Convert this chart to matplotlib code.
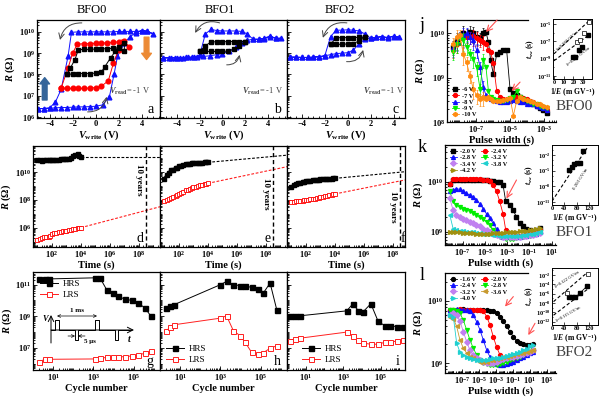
import numpy as np
import matplotlib
matplotlib.use("Agg")
import matplotlib.pyplot as plt
from matplotlib.ticker import (FixedLocator, LogLocator, NullFormatter,
                               MultipleLocator, LogFormatterSciNotation)

plt.rcParams.update({
    "font.family": ["Liberation Serif", "DejaVu Serif"],
    "font.weight": "bold",
    "axes.labelweight": "bold",
    "mathtext.fontset": "custom",
    "mathtext.rm": "Liberation Serif:bold",
    "mathtext.it": "Liberation Serif:italic:bold",
    "mathtext.bf": "Liberation Serif:bold",
    "axes.linewidth": 0.9,
})

# ---------------- a-c : R vs V_write (loops in sweep order) ----------------
a_black_V = [-2.5, -2.0, -1.5, -1.0, -0.5, 0.0, 0.5, 0.8, 1.3, 1.7, 2.0, 2.5,
             2.5, 2.0, 1.5, 1.0, 0.5, 0.0, -0.5, -1.0, -1.5, -1.8, -2.2, -2.5]
a_black_R = [1.0e8, 1.05e8, 1.1e8, 1.1e8, 1.1e8, 1.15e8, 1.3e8, 2.3e8, 6e8, 1.2e9, 2e9, 2.9e9,
             1.2e9, 1.8e9, 1.7e9, 1.6e9, 1.6e9, 1.55e9, 1.5e9, 1.5e9, 1.45e9, 5e8, 2e8, 1.0e8]
a_red_V = [-3.0, -2.5, -2.0, -1.5, -1.0, -0.5, 0.0, 0.5, 1.1, 1.55, 2.0, 2.3, 2.9,
           2.5, 2.0, 1.5, 1.0, 0.5, 0.0, -0.5, -1.0, -1.6, -2.0, -2.4, -3.0]
a_red_R = [2.3e7, 2.2e7, 2.2e7, 2.2e7, 2.2e7, 2.3e7, 2.4e7, 2.8e7, 5e7, 3.4e8, 1.4e9, 3.5e9, 2e9,
           3.8e9, 3.4e9, 3.2e9, 3.0e9, 3.0e9, 2.9e9, 2.8e9, 2.8e9, 2.6e9, 1e9, 2e8, 2.3e7]
a_blue_V = [-5.0, -4.5, -4.0, -3.5, -3.0, -2.5, -2.0, -1.5, -1.0, -0.5,
            0.0, 0.6, 1.2, 1.6, 1.9, 2.5, 3.0, 3.5, 4.0, 4.5, 5.0,
            4.5, 4.0, 3.5, 3.0, 2.5, 2.0, 1.5, 1.0, 0.5, 0.0,
            -0.5, -1.0, -1.5, -2.1, -2.4, -3.0, -3.5, -4.0, -4.5, -5.0]
a_blue_R = [2.5e6, 2.5e6, 2.6e6, 2.7e6, 2.8e6, 2.8e6, 2.9e6, 3.0e6, 3.0e6, 3.1e6,
            3.2e6, 3.7e6, 9e6, 1e8, 7e8, 3e9, 6e9, 9e9, 1.15e10, 1.1e10, 8e9,
            1.05e10, 1.1e10, 1.05e10, 1.05e10, 1.05e10, 1.05e10, 1.0e10, 1.0e10, 1.0e10, 1.0e10,
            1.0e10, 1.0e10, 1.0e10, 9.5e9, 7e8, 2e7, 5e6, 2.7e6, 2.5e6, 2.5e6]

b_black_V = [-2.0, -1.5, -1.0, -0.5, 0.0, 0.5, 1.0, 1.5, 2.0,
             2.0, 1.5, 1.0, 0.5, 0.0, -0.5, -1.0, -1.5, -2.0]
b_black_R = [1.2e9, 1.2e9, 1.2e9, 1.2e9, 1.2e9, 1.25e9, 1.5e9, 2.2e9, 3.3e9,
             3.5e9, 3.5e9, 3.5e9, 3.5e9, 3.4e9, 3.4e9, 3.4e9, 2.2e9, 1.2e9]
b_blue_V = [-5.2, -4.7, -4.2, -3.7, -3.2, -2.7, -2.2, -1.7, -1.1, -0.5,
            0.0, 0.6, 1.2, 1.7, 2.2, 2.7, 3.2, 3.7, 4.2, 4.7, 5.2,
            4.7, 4.2, 3.7, 3.2, 2.7, 2.2, 1.7, 1.2, 0.6, 0.0,
            -0.5, -1.0, -1.5, -2.0, -2.5, -3.0, -3.5, -4.0, -4.5, -5.2]
b_blue_R = [6e8, 6e8, 6e8, 6.2e8, 6.3e8, 6.5e8, 6.5e8, 7e8, 7.5e8, 8.5e8,
            9.5e8, 1.2e9, 2e9, 3e9, 4e9, 4.5e9, 4.5e9, 4.7e9, 6e9, 5e9, 5e9,
            5e9, 6.5e9, 5e9, 4.5e9, 4.5e9, 8e9, 1.05e10, 1.1e10, 1.1e10, 1.1e10,
            1.15e10, 1.3e10, 8e9, 8e8, 6.5e8, 6.3e8, 6.2e8, 6e8, 6e8, 6e8]

c_black_V = [-1.5, -1.0, -0.5, 0.0, 0.5, 1.0, 1.5, 1.5, 1.0, 0.5, 0.0, -0.5, -1.0, -1.5]
c_black_R = [2.6e9, 2.6e9, 2.6e9, 2.7e9, 2.8e9, 3.8e9, 5.5e9, 5.5e9, 5.5e9, 5.4e9, 5.4e9, 5.3e9, 5.3e9, 2.6e9]
c_blue_V = [-5.0, -4.5, -4.0, -3.5, -3.0, -2.5, -2.0, -1.5, -1.0, -0.5,
            0.0, 0.5, 1.0, 1.5, 2.0, 2.5, 3.0, 3.5, 4.0, 4.5,
            4.0, 3.5, 3.0, 2.5, 2.0, 1.5, 1.0, 0.5, 0.0, -0.5,
            -1.0, -1.5, -2.0, -2.5, -3.0, -3.5, -4.0, -4.5, -5.0]
c_blue_R = [6.5e8, 6.5e8, 6.3e8, 6.3e8, 6.5e8, 6.8e8, 7.5e8, 8.5e8, 9.5e8, 1.0e9,
            1.05e9, 1.4e9, 2.8e9, 4.5e9, 5e9, 5.5e9, 6e9, 5.5e9, 6e9, 5.5e9,
            6.5e9, 5e9, 6e9, 5.5e9, 5e9, 8e9, 1.1e10, 1.2e10, 1.25e10, 1.2e10,
            1.2e10, 6e9, 7.5e8, 6.8e8, 6.5e8, 6.3e8, 6.3e8, 6.5e8, 6.5e8]

# ---------------- d-f : retention ----------------
ret_t = [10, 15, 20, 30, 40, 60, 80, 100, 150, 200, 300, 400, 600, 800, 1000,
         1500, 2000, 3000, 4000, 6000, 8000, 10000]
d_hrs = [7e10, 7e10, 6.5e10, 6.8e10, 7e10, 7e10, 7.2e10, 7.5e10, 7.2e10, 7e10, 7.5e10,
         8e10, 8e10, 8.5e10, 8.5e10, 9e10, 1e11, 1.3e11, 1.6e11, 1.8e11, 1.5e11, 1.2e11]
d_lrs = [1.5e5, 1.7e5, 2e5, 2.2e5, 2.3e5, 2.4e5, 2.5e5, 4e5, 4.3e5, 4.6e5, 5e5,
         5.3e5, 5.8e5, 6.2e5, 6.5e5, 7e5, 7.5e5, 8e5, 8.5e5, 9.2e5, 1e6, 1.05e6]
e_hrs = [3e9, 6e9, 9e9, 1.3e10, 1.5e10, 1.8e10, 2.1e10, 2.5e10, 2.9e10, 3.1e10, 3.5e10,
         3.7e10, 3.9e10, 4.1e10, 4.2e10, 4.4e10, 4.5e10, 4.6e10, 4.7e10, 4.8e10, 4.85e10, 4.9e10]
e_lrs = [9e7, 1e8, 1.1e8, 1.4e8, 1.6e8, 2e8, 2.4e8, 2.8e8, 3.4e8, 4e8, 5e8,
         5.6e8, 6.5e8, 7.2e8, 8e8, 9e8, 1e9, 1.1e9, 1.2e9, 1.35e9, 1.45e9, 1.55e9]
f_hrs = [9e8, 1.1e9, 1.3e9, 1.55e9, 1.7e9, 1.9e9, 2.05e9, 2.2e9, 2.35e9, 2.45e9, 2.6e9,
         2.7e9, 2.8e9, 2.9e9, 3e9, 3.1e9, 3.2e9, 3.3e9, 3.35e9, 3.4e9, 3.45e9, 3.5e9]
f_lrs = [7.5e7, 7.8e7, 8e7, 8.5e7, 8.8e7, 9.2e7, 9.6e7, 1e8, 1.07e8, 1.12e8, 1.2e8,
         1.27e8, 1.37e8, 1.45e8, 1.55e8, 1.7e8, 1.8e8, 2e8, 2.15e8, 2.35e8, 2.55e8, 2.7e8]
ext_t = [1e4, 2.9e9]
f_ext_t = [1e4, 6.9e8]
d_hrs_ext = [1.1e11, 1.1e11]
d_lrs_ext = [1.05e6, 3.3e7]
e_hrs_ext = [4.9e10, 1.6e11]
e_lrs_ext = [1.55e9, 2.4e10]
f_hrs_ext = [3.5e9, 1.05e10]
f_lrs_ext = [2.7e8, 2.7e9]
ten_years = 3.15e8

# ---------------- g-i : endurance ----------------
g_N = [2, 4, 6, 1200, 2100, 4500, 9600, 1.7e4, 3.7e4, 7.9e4, 1.7e5, 3.6e5, 6.9e5]
g_hrs = [2.4e11, 2.3e11, 2.3e11, 2.7e11, 2.7e11, 4.8e10, 3e10, 1.8e10, 1.2e10, 1e10, 6.8e9, 3.3e9, 1.07e9]
g_lrs = [1.35e6, 1.9e6, 1.9e6, 2e6, 2.2e6, 2.5e6, 2.6e6, 2.7e6, 2.8e6, 3.1e6, 3.6e6, 4.6e6, 6.8e6]
h_N = [2, 3, 5, 1000, 2000, 4400, 9300, 1.7e4, 3.5e4, 7.6e4, 1.35e5, 2.9e5, 6.2e5]
h_hrs = [3.3e9, 4.2e9, 5.4e9, 1e11, 1.6e11, 1e11, 8.7e10, 7.9e10, 6.8e10, 5.6e10, 3e10, 1.26e11, 2.6e9]
h_lrs = [1.1e8, 1.95e8, 2.9e8, 7.6e8, 1.07e9, 1.2e8, 6e7, 2.2e7, 5.2e6, 4e6, 5e6, 9.5e6, 1.35e7]
i_N = [1.5, 2.7, 4.9, 1550, 3200, 6500, 1.2e4, 3e4, 7.4e4, 1.7e5, 3.2e5, 7.8e5, 1.6e6]
i_hrs = [9.8e8, 1.07e9, 1.07e9, 2.2e9, 5.9e9, 2.3e9, 2.0e9, 6.2e9, 4.7e8, 2.5e8, 2.5e8, 2.2e8, 2.0e8]
i_lrs = [2.75e7, 3.7e7, 4.1e7, 1e8, 6e7, 3.2e7, 2e7, 1.7e7, 1.7e7, 2.3e7, 2.3e7, 2.75e7, 3.2e7]

# ---------------- j : BFO0 pulse width ----------------
j_logw = [-8.33, -8.14, -7.94, -7.75, -7.55, -7.35, -7.16, -6.96, -6.76, -6.57,
          -6.41, -6.27, -6.14, -5.98, -5.78, -5.59, -5.39, -5.20, -5.00, -4.80,
          -4.61, -4.41, -4.22, -4.02, -3.82, -3.63, -3.43, -3.24, -3.04, -2.84]
j_labels = ["-6 V", "-7 V", "-8 V", "-9 V", "-10 V"]
j_R = [
    [5.0e9, 7.1e9, 8.3e9, 1.0e10, 9.1e9, 1.1e10, 1.0e10, 8.3e9, 7.8e9, 1.0e10,
     1.05e10, 6.5e9, 2.5e9, 1.2e9, 3.5e9, 3.8e9, 4.2e9, 4.3e9, 5.6e8, 4.4e8,
     4.0e8, 3.6e8, 3.3e8, 3.0e8, 2.8e8, 2.6e8, 2.3e8, 2.1e8, 1.9e8, 1.6e8],
    [4.2e9, 5.9e9, 7.8e9, 8.3e9, 8.1e9, 8.3e9, 8.7e9, 7.8e9, 7.1e9, 6.5e9,
     5.9e9, 4.2e9, 3.8e9, 2.1e9, 5.1e8, 3.6e8, 3.3e8, 3.3e8, 3.2e8, 3.3e8,
     3.6e8, 3.6e8, 3.5e8, 3.3e8, 3.0e8, 2.8e8, 2.6e8, 2.3e8, 2.1e8, 1.9e8],
    [4.6e9, 6.5e9, 8.3e9, 9.1e9, 1.0e10, 8.3e9, 7.1e9, 4.2e9, 1.7e9, 6.2e8,
     4.0e8, 3.6e8, 3.3e8, 3.2e8, 3.0e8, 2.8e8, 2.8e8, 2.9e8, 3.0e8, 3.2e8,
     3.0e8, 2.9e8, 2.8e8, 2.6e8, 2.6e8, 2.5e8, 2.3e8, 2.2e8, 2.1e8, 1.9e8],
    [3.8e9, 5.9e9, 7.8e9, 7.1e9, 5.0e9, 3.5e9, 2.7e9, 1.7e9, 5.6e8, 2.5e9,
     1.7e9, 5.1e8, 3.6e8, 3.3e8, 3.2e8, 3.0e8, 3.0e8, 3.2e8, 3.5e8, 3.6e8,
     5.0e8, 3.6e8, 3.3e8, 3.0e8, 2.8e8, 2.6e8, 2.5e8, 2.3e8, 2.2e8, 2.1e8],
    [5.9e9, 8.3e9, 9.1e9, 3.5e9, 2.2e9, 1.1e9, 5.6e8, 4.0e8, 3.3e8, 3.6e8,
     3.3e8, 3.6e8, 3.3e8, 3.0e8, 3.0e8, 3.0e8, 3.2e8, 3.3e8, 3.5e8, 1.4e8,
     3.0e8, 3.6e8, 3.3e8, 3.2e8, 3.0e8, 2.8e8, 2.6e8, 2.5e8, 2.3e8, 2.2e8],
]
j_err_frac = [0.35, 0.4, 0.3, 0.45, 0.35, 0.3, 0.4, 0.35, 0.3, 0.35]

# ---------------- k : BFO1 pulse width ----------------
k_logw = [-8.17, -7.87, -7.57, -7.27, -6.97, -6.67, -6.37, -6.07, -5.77, -5.47,
          -5.17, -4.86, -4.57, -4.27, -3.96, -3.67, -3.37, -3.13, -2.77, -2.47,
          -2.16, -1.86, -1.57, -1.26, -0.96, -0.67, -0.36, -0.06]
k_labels = ["-2.0 V", "-2.4 V", "-2.8 V", "-3.2 V", "-3.4 V", "-3.8 V", "-4.2 V"]
k_R = [
    [9.3e9, 1.1e10, 1.12e10, 1.12e10, 1.12e10, 1.12e10, 1.12e10, 1.12e10, 1.12e10, 1.1e10,
     1.1e10, 1.1e10, 1.07e10, 1.07e10, 1.02e10, 9.8e9, 8.7e9, 4.1e9, 3.5e9, 2.75e9,
     2.0e9, 1.5e9, 1.3e9, 1.17e9, 1.1e9, 1.02e9, 1.1e9, 1.23e9],
    [9.3e9, 1.17e10, 1.17e10, 1.17e10, 1.17e10, 1.17e10, 1.17e10, 1.17e10, 1.17e10, 1.17e10,
     1.12e10, 1.1e10, 1.07e10, 8.7e9, 6.5e9, 4.1e9, 2.3e9, 1.1e9, 8.1e8, 8.1e8,
     8.3e8, 8.3e8, 8.5e8, 8.7e8, 9.1e8, 9.3e8, 1.02e9, 1.1e9],
    [6.5e9, 6.9e9, 7.4e9, 7.1e9, 6.5e9, 5.9e9, 5.5e9, 5.1e9, 4.4e9, 3.7e9,
     2.95e9, 2.3e9, 1.9e9, 1.5e9, 1.17e9, 8.7e8, 8.1e8, 7.8e8, 7.8e8, 7.8e8,
     8.1e8, 8.1e8, 8.3e8, 8.5e8, 8.7e8, 9.1e8, 9.3e8, 1.02e9],
    [6.5e9, 4.1e9, 3.5e9, 3.1e9, 2.95e9, 2.75e9, 2.6e9, 2.35e9, 2.15e9, 1.95e9,
     1.8e9, 1.6e9, 1.4e9, 1.1e9, 9.3e8, 8.1e8, 7.8e8, 7.4e8, 7.4e8, 7.4e8,
     7.6e8, 7.8e8, 8.1e8, 8.3e8, 8.5e8, 8.7e8, 9.1e8, 9.8e8],
    [4.7e9, 2.75e9, 2.2e9, 1.95e9, 1.85e9, 1.75e9, 1.6e9, 1.5e9, 1.4e9, 1.3e9,
     1.17e9, 1.1e9, 1.02e9, 9.3e8, 8.7e8, 8.3e8, 8.1e8, 7.9e8, 7.9e8, 7.9e8,
     8.0e8, 8.1e8, 8.3e8, 8.5e8, 8.7e8, 8.9e8, 9.1e8, 9.5e8],
    [2.2e9, 1.17e9, 1.1e9, 1.05e9, 1.03e9, 1.02e9, 1.0e9, 9.8e8, 9.6e8, 9.5e8,
     9.3e8, 9.1e8, 9.0e8, 8.8e8, 8.7e8, 8.5e8, 8.4e8, 8.3e8, 8.3e8, 8.3e8,
     8.4e8, 8.5e8, 8.6e8, 8.8e8, 9.0e8, 9.3e8, 9.6e8, 1.0e9],
    [1.02e9, 1.0e9, 1.0e9, 9.8e8, 9.7e8, 9.6e8, 9.5e8, 9.4e8, 9.3e8, 9.3e8,
     9.2e8, 9.2e8, 9.3e8, 9.4e8, 9.5e8, 9.6e8, 9.7e8, 9.8e8, 9.9e8, 1.0e9,
     1.02e9, 1.03e9, 1.05e9, 1.07e9, 1.1e9, 1.12e9, 1.15e9, 1.2e9],
]

# ---------------- l : BFO2 pulse width ----------------
l_logw = [-8.41, -8.02, -7.63, -7.24, -6.84, -6.45, -6.06, -5.67, -5.27, -4.88,
          -4.49, -4.09, -3.71, -3.32, -2.92, -2.53, -2.14, -1.74, -1.35, -0.96,
          -0.56, -0.18, 0.21, 0.61, 1.00, 1.39]
l_labels = ["-1.6 V", "-2.0 V", "-2.4 V", "-2.8 V", "-3.2 V", "-3.6 V", "-4.0 V"]
l_R = [
    [7.2e9, 7.2e9, 7.1e9, 7.2e9, 7.3e9, 7.2e9, 7.2e9, 7.1e9, 7.2e9, 7.2e9,
     7.1e9, 7.1e9, 7.0e9, 6.8e9, 6.3e9, 5.6e9, 4.7e9, 3.9e9, 3.2e9, 2.65e9,
     2.3e9, 2.1e9, 2.0e9, 1.95e9, 1.95e9, 2.05e9],
    [7.2e9, 7.2e9, 7.2e9, 7.3e9, 7.2e9, 7.2e9, 7.2e9, 7.1e9, 7.2e9, 7.1e9,
     6.8e9, 5.6e9, 4.1e9, 2.65e9, 1.8e9, 1.35e9, 1.2e9, 1.12e9, 1.1e9, 1.12e9,
     1.15e9, 1.26e9, 1.35e9, 1.45e9, 1.5e9, 1.6e9],
    [7.2e9, 7.2e9, 7.3e9, 7.2e9, 7.2e9, 7.1e9, 6.8e9, 5.9e9, 4.6e9, 3.4e9,
     2.35e9, 1.6e9, 1.26e9, 1.05e9, 9.6e8, 9.3e8, 9.3e8, 9.6e8, 1.0e9, 1.05e9,
     1.12e9, 1.2e9, 1.26e9, 1.35e9, 1.45e9, 1.5e9],
    [7.2e9, 7.2e9, 7.0e9, 6.3e9, 4.9e9, 3.4e9, 2.35e9, 1.73e9, 1.35e9, 1.12e9,
     1.0e9, 9.6e8, 9.3e8, 9.3e8, 9.3e8, 9.6e8, 1.0e9, 1.05e9, 1.12e9, 1.15e9,
     1.2e9, 1.26e9, 1.35e9, 1.45e9, 1.5e9, 1.6e9],
    [5.9e9, 6.3e9, 5.9e9, 4.7e9, 3.2e9, 2.2e9, 1.6e9, 1.35e9, 1.2e9, 1.12e9,
     1.05e9, 1.0e9, 1.0e9, 1.0e9, 1.05e9, 1.12e9, 1.15e9, 1.2e9, 1.24e9, 1.26e9,
     1.3e9, 1.35e9, 1.4e9, 1.45e9, 1.5e9, 1.6e9],
    [5.6e9, 5.2e9, 3.9e9, 2.35e9, 1.73e9, 1.45e9, 1.26e9, 1.2e9, 1.12e9, 1.05e9,
     1.05e9, 1.05e9, 1.1e9, 1.12e9, 1.15e9, 1.2e9, 1.24e9, 1.26e9, 1.3e9, 1.35e9,
     1.4e9, 1.45e9, 1.47e9, 1.5e9, 1.55e9, 1.65e9],
    [5.9e9, 5.6e9, 2.1e9, 1.5e9, 1.35e9, 1.26e9, 1.2e9, 1.15e9, 1.12e9, 1.12e9,
     1.12e9, 1.12e9, 1.15e9, 1.2e9, 1.2e9, 1.2e9, 1.26e9, 1.3e9, 1.35e9, 1.4e9,
     1.45e9, 1.5e9, 1.6e9, 1.7e9, 1.85e9, 1.95e9],
]

# ---------------- insets : t_sw vs 1/E ----------------
j_invE_open = [24, 27, 31, 36]
j_tsw_open = [8e-8, 1.6e-7, 1e-6, 1.6e-5]
j_invE_fill = [20, 22, 26, 29, 35]
j_tsw_fill = [1.6e-9, 1.6e-9, 1e-8, 2.5e-8, 6.3e-7]
j_fit1_x, j_fit1_t = [0, 37], [3.7e-9, 3.2e-5]
j_fit2_x, j_fit2_t = [0, 34], [5.8e-10, 4e-7]
k_invE = [54, 65, 72, 81, 90, 101]
k_tsw = [1.35e-5, 4.4e-5, 1.6e-4, 3.2e-4, 2.5e-4, 6.3e-2]
k_fit_x, k_fit_t = [0, 114], [1.3e-11, 0.2]
l_invE = [54, 65, 76, 92, 114]
l_tsw = [2.2e-7, 1.6e-7, 1.6e-7, 1.6e-6, 4e-5]
l_invE_open = [49, 119]
l_tsw_open = [1.3e-6, 1.6e-2]
l_fit1_x, l_fit1_t = [5, 114], [2e-8, 3e-2]
l_fit2_x, l_fit2_t = [5, 119], [2.5e-11, 1.3e-5]

# ====================================================================
W, H = 600, 397
fig = plt.figure(figsize=(6.0, 3.97), dpi=100)


def add_box(x0, y0, x1, y1, z=0):
    ax = fig.add_axes([x0 / W, 1 - y1 / H, (x1 - x0) / W, (y1 - y0) / H])
    ax.set_zorder(z)
    return ax


def style(ax, fs=6):
    ax.tick_params(which="both", direction="in", labelsize=fs, pad=1.5,
                   width=0.6, top=False, right=False)
    ax.tick_params(which="major", length=2.8)
    ax.tick_params(which="minor", length=1.5)
    for sp in ax.spines.values():
        sp.set_linewidth(0.9)


def log_axis(axis, majors, subs=np.arange(1, 10)):
    axis.set_major_locator(FixedLocator(majors))
    axis.set_major_formatter(LogFormatterSciNotation())
    axis.set_minor_locator(LogLocator(base=10, subs=subs, numticks=200))
    axis.set_minor_formatter(NullFormatter())


def letter(ax, s, x=0.95, y=0.02):
    ax.text(x, y, s, transform=ax.transAxes, ha="right", va="bottom",
            fontsize=10, weight="normal")


RLABEL = r"$\mathit{R}$ (Ω)"

# ---------------- a, b, c ----------------
ax_a = add_box(37, 20, 160, 118)
ax_b = add_box(160, 20, 287, 118)
ax_c = add_box(287, 20, 405, 118)
for ax, xl in ((ax_a, (-5.1, 5.6)), (ax_b, (-5.5, 5.7)), (ax_c, (-5.3, 5.0))):
    ax.set_yscale("log")
    ax.set_ylim(9e5, 3.6e10)
    ax.set_xlim(*xl)
    style(ax)
    log_axis(ax.yaxis, [1e6, 1e7, 1e8, 1e9, 1e10], subs=np.arange(2, 10))
    ax.xaxis.set_major_locator(FixedLocator([-4, -2, 0, 2, 4]))
    ax.xaxis.set_minor_locator(MultipleLocator(0.5))
    ax.set_xlabel(r"$\mathit{V}_{\mathrm{write}}$ (V)", fontsize=7.5, labelpad=0.5)
ax_b.tick_params(labelleft=False)
ax_c.tick_params(labelleft=False)
ax_a.set_ylabel(RLABEL, fontsize=7.5, labelpad=1)

mk = dict(lw=0.7, ms=3.4)
ax_a.plot(a_blue_V, a_blue_R, "-^", color="#1010ff", **mk)
ax_a.plot(a_red_V, a_red_R, "-o", color="#ff0000", **mk)
ax_a.plot(a_black_V, a_black_R, "-s", color="black", lw=0.7, ms=3.0)
ax_b.plot(b_blue_V, b_blue_R, "-^", color="#1010ff", **mk)
ax_b.plot(b_black_V, b_black_R, "-s", color="black", lw=0.7, ms=3.0)
ax_c.plot(c_blue_V, c_blue_R, "-^", color="#1010ff", **mk)
ax_c.plot(c_black_V, c_black_R, "-s", color="black", lw=0.7, ms=3.0)

curve = dict(arrowstyle="->", color="#444444", lw=0.7, shrinkA=0, shrinkB=0)
ax_a.annotate("", xy=(-3.1, 10 ** 9.62), xytext=(-1.2, 10 ** 10.42),
              arrowprops=dict(connectionstyle="arc3,rad=0.4", **curve))
ax_a.annotate("", xy=(0.96, 10 ** 6.95), xytext=(-0.7, 10 ** 6.24),
              arrowprops=dict(connectionstyle="arc3,rad=0.4", **curve))
ax_b.annotate("", xy=(-2.4, 10 ** 9.95), xytext=(-0.24, 10 ** 10.42),
              arrowprops=dict(connectionstyle="arc3,rad=0.4", **curve))
ax_b.annotate("", xy=(1.52, 10 ** 8.92), xytext=(0.38, 10 ** 8.45),
              arrowprops=dict(connectionstyle="arc3,rad=0.4", **curve))
ax_c.annotate("", xy=(-2.17, 10 ** 9.72), xytext=(-0.07, 10 ** 10.42),
              arrowprops=dict(connectionstyle="arc3,rad=0.4", **curve))
ax_c.annotate("", xy=(1.35, 10 ** 9.15), xytext=(-0.1, 10 ** 8.6),
              arrowprops=dict(connectionstyle="arc3,rad=0.4", **curve))
ax_a.annotate("", xy=(-4.43, 10 ** 7.85), xytext=(-4.43, 10 ** 6.8),
              arrowprops=dict(width=3.4, headwidth=7, headlength=4.5,
                              color="#35659a", shrink=0))
ax_a.annotate("", xy=(4.43, 10 ** 8.7), xytext=(4.43, 10 ** 9.75),
              arrowprops=dict(width=3.4, headwidth=7, headlength=4.5,
                              color="#ec8a35", shrink=0))
for ax, xr in ((ax_a, 0.92), (ax_b, 0.97), (ax_c, 0.99)):
    ax.text(xr, 0.27, r"$\mathit{V}_{\mathrm{read}}$= -1 V", transform=ax.transAxes,
            ha="right", va="center", fontsize=6, weight="normal", color="#444444")
letter(ax_a, "a")
letter(ax_b, "b")
letter(ax_c, "c")

for x, s in ((92, "BFO0"), (220, "BFO1"), (340, "BFO2")):
    fig.text(x / W, 1 - 10 / H, s, ha="center", va="center", fontsize=9, weight="normal")

# ---------------- d, e, f ----------------
ax_d = add_box(33, 146, 160, 247)
ax_e = add_box(160, 146, 287, 247)
ax_f = add_box(287, 146, 405, 247)
ret_sets = (
    (ax_d, d_hrs, d_lrs, ext_t, d_hrs_ext, d_lrs_ext, 10 ** 9.46, 2.7e9, "d", 0.87),
    (ax_e, e_hrs, e_lrs, ext_t, e_hrs_ext, e_lrs_ext, 10 ** 9.46, 3e8, "e", 0.87),
    (ax_f, f_hrs, f_lrs, f_ext_t, f_hrs_ext, f_lrs_ext, 10 ** 8.84, 3e7, "f", 1.0),
)
for ax, hrs, lrs, et, he, le, xr, ty, lt, lx in ret_sets:
    ax.set_xscale("log")
    ax.set_yscale("log")
    ax.set_xlim(10 ** 0.7, xr)
    ax.set_ylim(10 ** 4.64, 10 ** 11.86)
    style(ax)
    log_axis(ax.xaxis, [1e2, 1e4, 1e6, 1e8])
    log_axis(ax.yaxis, [1e6, 1e8, 1e10])
    ax.set_xlabel("Time (s)", fontsize=7.5, labelpad=0.5)
    ax.plot(et, he, "--", color="black", lw=0.8, dashes=(2.5, 1.5))
    ax.plot(et, le, "--", color="#ff2020", lw=0.8, dashes=(2.5, 1.5))
    ax.plot(ret_t, hrs, "-s", color="black", lw=2.2, ms=3.2)
    ax.plot(ret_t, lrs, "-s", color="#ff0000", lw=1.8, ms=3.2, mfc="white", mew=0.6)
    ax.axvline(ten_years, color="black", ls="--", lw=1.0, dashes=(3, 2))
    ax.annotate("10 years", xy=(ten_years, ty), xytext=(-2, 0), textcoords="offset points",
                rotation=270, ha="right", va="center", fontsize=6.5)
    letter(ax, lt, x=lx)
ax_e.tick_params(labelleft=False)
ax_f.tick_params(labelleft=False)
ax_d.set_ylabel(RLABEL, fontsize=7.5, labelpad=1)

# ---------------- g, h, i ----------------
ax_g = add_box(33, 272, 160, 370)
ax_h = add_box(160, 272, 287, 370)
ax_i = add_box(287, 272, 405, 370)
end_sets = (
    (ax_g, g_N, g_hrs, g_lrs, "g", "upper left", (0.03, 0.96)),
    (ax_h, h_N, h_hrs, h_lrs, "h", "lower left", (0.02, 0.02)),
    (ax_i, i_N, i_hrs, i_lrs, "i", "lower left", (0.1, 0.02)),
)
for ax, N, hrs, lrs, lt, loc, anchor in end_sets:
    ax.set_xscale("log")
    ax.set_yscale("log")
    ax.set_xlim(1, 2e6)
    ax.set_ylim(4e5, 6.3e11)
    style(ax)
    log_axis(ax.xaxis, [1e1, 1e3, 1e5])
    log_axis(ax.yaxis, [1e7, 1e9, 1e11])
    ax.set_xlabel("Cycle number", fontsize=7.5, labelpad=0.5)
    ax.plot(N, hrs, "-s", color="black", lw=0.7, ms=3.6, label="HRS")
    ax.plot(N, lrs, "-s", color="#ff2020", lw=0.7, ms=3.6, mfc="white", mew=0.7, label="LRS")
    ax.legend(loc=loc, bbox_to_anchor=anchor, frameon=False,
              handlelength=2.0, borderaxespad=0, labelspacing=0.3, handletextpad=0.5,
              prop=dict(size=6.5, weight="normal"))
    letter(ax, lt)
ax_h.tick_params(labelleft=False)
ax_i.tick_params(labelleft=False)
ax_g.set_ylabel(RLABEL, fontsize=7.5, labelpad=1)

# pulse schematic inside g (drawn in pixel-like local coordinates)
ax_s = add_box(40, 306, 140, 346, z=5)
ax_s.axis("off")
ax_s.set_xlim(40, 140)
ax_s.set_ylim(346, 306)
pulse_x = [51, 55, 55, 59, 59, 75, 75, 78, 78, 95, 95, 99, 99, 115, 115, 118, 118, 131]
pulse_y = [330, 330, 320, 320, 330, 330, 340, 340, 330, 330, 320, 320, 330, 330, 340, 340, 330, 330]
ax_s.plot(pulse_x, pulse_y, color="black", lw=0.7)
ax_s.annotate("", xy=(51, 315), xytext=(51, 343),
              arrowprops=dict(arrowstyle="->", lw=0.7, color="black", shrinkA=0, shrinkB=0))
ax_s.annotate("", xy=(134, 330), xytext=(51, 330),
              arrowprops=dict(arrowstyle="->", lw=0.7, color="black", shrinkA=0, shrinkB=0))
ax_s.annotate("", xy=(97, 316), xytext=(57, 316),
              arrowprops=dict(arrowstyle="<->", lw=0.5, color="black", shrinkA=0, shrinkB=0,
                              mutation_scale=5))
ax_s.annotate("", xy=(75, 336), xytext=(68, 336),
              arrowprops=dict(arrowstyle="->", lw=0.5, color="black", shrinkA=0, shrinkB=0,
                              mutation_scale=5))
ax_s.annotate("", xy=(78, 336), xytext=(85, 336),
              arrowprops=dict(arrowstyle="->", lw=0.5, color="black", shrinkA=0, shrinkB=0,
                              mutation_scale=5))
ax_s.text(46, 318, "$\\mathit{V}$", fontsize=6, ha="center", va="center")
ax_s.text(129, 338, "$\\mathit{t}$", fontsize=7, ha="center", va="center")
ax_s.text(77, 313, "1 ms", fontsize=5, ha="center", va="bottom")
ax_s.text(84, 341, "5 μs", fontsize=5, ha="left", va="center")

# ---------------- j, k, l ----------------
def pw_axis(ax, x0, x1, xl, yl, xmaj, ymaj):
    ax.set_xscale("log")
    ax.set_yscale("log")
    ax.set_xlim(*xl)
    ax.set_ylim(*yl)
    style(ax)
    log_axis(ax.xaxis, xmaj)
    log_axis(ax.yaxis, ymaj)
    ax.set_xlabel("Pulse width (s)", fontsize=7.5, labelpad=0.5)
    ax.set_ylabel(RLABEL, fontsize=7.5, labelpad=1)
    f = (528 - x0) / (x1 - x0)
    cut = 10 ** (np.log10(xl[0]) + f * (np.log10(xl[1]) - np.log10(xl[0])))
    ax.spines["top"].set_bounds(xl[0], cut)
    ax.spines["right"].set_visible(False)


ax_j = add_box(447, 20, 556, 122)
pw_axis(ax_j, 447, 556, (10 ** -8.7, 10 ** -2.3), (1e8, 2e10),
        [1e-7, 1e-5, 1e-3], [1e8, 1e9, 1e10])
j_styles = [("black", "s"), ("#ff0000", "o"), ("#1010ff", "^"), ("#00ee00", "v"), ("#ff8c10", "h")]
jw = 10 ** np.array(j_logw)
for (col, m), R, lab in zip(j_styles, j_R, j_labels):
    R = np.array(R)
    ax_j.errorbar(jw[:10], R[:10], yerr=R[:10] * np.array(j_err_frac), fmt="none",
                  ecolor=col, elinewidth=0.5, capsize=1.0, capthick=0.5)
    ax_j.plot(jw, R, "-", marker=m, color=col, lw=0.6, ms=2.8, label=lab)
ax_j.legend(loc="lower left", bbox_to_anchor=(0.02, 0.02), frameon=False, borderaxespad=0,
            handlelength=1.2, handletextpad=0.4, labelspacing=0.15,
            prop=dict(size=4.5, weight="bold"))
red_arrow = dict(arrowstyle="->", color="#ff5050", lw=0.8, shrinkA=0, shrinkB=0)
ax_j.annotate("", xy=(10 ** -6.41, 10 ** 10.03), xytext=(10 ** -5.76, 10 ** 10.3),
              arrowprops=red_arrow)
ax_j.annotate("", xy=(10 ** -4.9, 10 ** 8.7), xytext=(10 ** -4.41, 10 ** 8.9),
              arrowprops=red_arrow)

ax_k = add_box(445, 145, 556, 245)
pw_axis(ax_k, 445, 556, (10 ** -8.6, 10 ** 1.4), (10 ** 8.74, 10 ** 10.74),
        [1e-7, 1e-5, 1e-3, 1e-1, 1e1], [1e9, 1e10])
k_styles = [("black", "s"), ("#ff0000", "o"), ("#1010ff", "^"), ("#00ee00", "v"),
            ("#c080f0", "D"), ("#20d0d0", "<"), ("#a09010", ">")]
kw = 10 ** np.array(k_logw)
k_handles = []
for (col, m), R, lab in zip(k_styles, k_R, k_labels):
    h, = ax_k.plot(kw, R, "-", marker=m, color=col, lw=0.6, ms=2.8, label=lab)
    k_handles.append(h)
order = [0, 2, 4, 6, 1, 3, 5]
ax_k.legend([k_handles[i] for i in order], [k_labels[i] for i in order],
            loc="upper left", bbox_to_anchor=(0.02, 0.99), ncol=2, frameon=False,
            borderaxespad=0, handlelength=1.2, handletextpad=0.4, labelspacing=0.15,
            columnspacing=0.8, prop=dict(size=4.5, weight="bold"))
ax_k.annotate("", xy=(10 ** -3.06, 10 ** 9.67), xytext=(10 ** -2.16, 10 ** 10.04),
              arrowprops=red_arrow)

ax_l = add_box(445, 273, 556, 373)
pw_axis(ax_l, 445, 556, (1e-9, 10 ** 4.06), (10 ** 8.84, 10 ** 10.45),
        [1e-7, 1e-5, 1e-3, 1e-1, 1e1, 1e3], [1e9, 1e10])
l_styles = [("black", "o"), ("#ff0000", "o"), ("#1010ff", "^"), ("#00ee00", "v"),
            ("#c080f0", "D"), ("#c89a30", "<"), ("#20d0d0", ">")]
lw_ = 10 ** np.array(l_logw)
l_handles = []
for (col, m), R, lab in zip(l_styles, l_R, l_labels):
    h, = ax_l.plot(lw_, R, "-", marker=m, color=col, lw=0.6, ms=2.8, label=lab)
    l_handles.append(h)
ax_l.legend([l_handles[i] for i in order], [l_labels[i] for i in order],
            loc="upper left", bbox_to_anchor=(0.02, 0.99), ncol=2, frameon=False,
            borderaxespad=0, handlelength=1.2, handletextpad=0.4, labelspacing=0.15,
            columnspacing=0.8, prop=dict(size=4.5, weight="bold"))
ax_l.annotate("", xy=(10 ** -1.94, 10 ** 9.91), xytext=(10 ** -0.96, 10 ** 10.07),
              arrowprops=red_arrow)
ax_l.annotate("", xy=(10 ** 0.8, 10 ** 9.45), xytext=(10 ** 1.59, 10 ** 9.64),
              arrowprops=red_arrow)

for y, s in ((25, "j"), (148, "k"), (275, "l")):
    fig.text(422 / W, 1 - y / H, s, ha="center", va="center", fontsize=13, weight="normal")
for y, s in ((107, "BFO0"), (232, "BFO1"), (352, "BFO2")):
    fig.text(574 / W, 1 - y / H, s, ha="center", va="center", fontsize=11,
             weight="normal", color="#404040")

# ---------------- insets ----------------
def inset_style(ax, xl, yl, xt, yt):
    ax.set_yscale("log")
    ax.set_xlim(*xl)
    ax.set_ylim(*yl)
    ax.tick_params(which="both", direction="in", labelsize=4.5, pad=1, width=0.5,
                   top=False, right=False)
    ax.tick_params(which="major", length=2)
    ax.tick_params(which="minor", length=1)
    for sp in ax.spines.values():
        sp.set_linewidth(0.7)
    ax.xaxis.set_major_locator(FixedLocator(xt))
    log_axis(ax.yaxis, yt, subs=(1.0,))
    ax.set_xlabel(r"1/$\mathit{E}$ (m GV$^{-1}$)", fontsize=5.5, labelpad=0.5)
    ax.set_ylabel(r"$\mathit{t}_{\mathrm{sw}}$ (s)", fontsize=5.5, labelpad=0.5)


ax_ji = add_box(553, 19, 592, 79, z=5)
inset_style(ax_ji, (-1, 39), (10 ** -11.35, 10 ** -4.4), [0, 10, 20, 30],
            [1e-11, 1e-9, 1e-7, 1e-5])
ax_ji.plot(j_fit1_x, j_fit1_t, "--", color="black", lw=0.8, dashes=(3, 2))
ax_ji.plot(j_fit2_x, j_fit2_t, "--", color="black", lw=0.8, dashes=(3, 2))
ax_ji.plot(j_invE_fill, j_tsw_fill, "s", color="black", ms=2.6)
ax_ji.plot(j_invE_open, j_tsw_open, "s", color="black", ms=2.6, mfc="white", mew=0.5)
ax_ji.text(14, 10 ** -6.9, "δ=0.283 GV/m", rotation=42, fontsize=3.3, weight="normal",
           ha="center", va="center")
ax_ji.text(25, 10 ** -8.7, "δ=0.279 GV/m", rotation=38, fontsize=3.3, weight="normal",
           ha="center", va="center")

ax_ki = add_box(552, 145, 598, 205, z=5)
inset_style(ax_ki, (0, 150), (10 ** -11.6, 10 ** -0.1), [0, 40, 80, 120],
            [1e-11, 1e-8, 1e-5, 1e-2])
ax_ki.plot(k_fit_x, k_fit_t, "--", color="black", lw=0.8, dashes=(3, 2))
ax_ki.plot(k_invE, k_tsw, "s", color="black", ms=2.6)
ax_ki.text(93, 10 ** -6.6, "0.203 GV/m", rotation=58, fontsize=3.5, weight="normal",
           ha="center", va="center")

ax_li = add_box(552, 268, 598, 325, z=5)
inset_style(ax_li, (0, 150), (10 ** -12.7, 10 ** -0.5), [0, 40, 80, 120],
            [1e-12, 1e-10, 1e-8, 1e-6, 1e-4, 1e-2])
ax_li.plot(l_fit1_x, l_fit1_t, "--", color="black", lw=0.8, dashes=(3, 2))
ax_li.plot(l_fit2_x, l_fit2_t, "--", color="black", lw=0.8, dashes=(3, 2))
ax_li.plot(l_invE, l_tsw, "-s", color="black", lw=0.6, ms=2.6)
ax_li.plot(l_invE_open, l_tsw_open, "s", color="black", ms=2.6, mfc="white", mew=0.5)
ax_li.text(50, 10 ** -3.0, "δ=0.122 GV/m", rotation=33, fontsize=3.3, weight="normal",
           ha="center", va="center")
ax_li.text(55, 10 ** -10.4, "δ=0.115 GV/m", rotation=30, fontsize=3.3, weight="normal",
           ha="center", va="center")

fig.savefig("out.png", dpi=100)
